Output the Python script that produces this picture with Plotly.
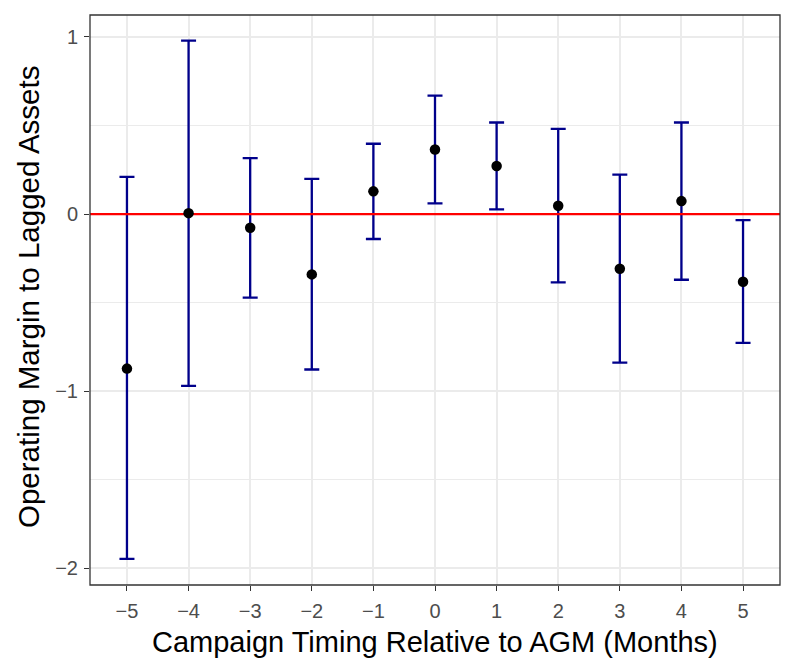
import plotly.graph_objects as go

months = [-5, -4, -3, -2, -1, 0, 1, 2, 3, 4, 5]
estimate = [-0.873, 0.005, -0.077, -0.341, 0.128, 0.364, 0.271, 0.047, -0.309, 0.073, -0.382]
upper = [0.210, 0.979, 0.316, 0.199, 0.397, 0.669, 0.517, 0.481, 0.223, 0.517, -0.034]
lower = [-1.948, -0.970, -0.472, -0.878, -0.141, 0.060, 0.026, -0.386, -0.839, -0.371, -0.728]
y_ticks = [-2, -1, 0, 1]
y_minor = [-1.5, -0.5, 0.5]

x_title = "Campaign Timing Relative to AGM (Months)"
y_title = "Operating Margin to Lagged Assets"

err_plus = [u - e for u, e in zip(upper, estimate)]
err_minus = [e - l for e, l in zip(estimate, lower)]

x_range = [-5.6, 5.6]
y_range = [-2.095, 1.124]


def lab(v):
    return ("\u2212" + str(-v)) if v < 0 else str(v)


fig = go.Figure()
fig.add_trace(go.Scatter(
    x=months, y=estimate, mode="markers",
    marker=dict(size=1, opacity=0),
    error_y=dict(type="data", symmetric=False, array=err_plus, arrayminus=err_minus,
                 color="#00008B", thickness=2.3, width=7.5),
    showlegend=False, hoverinfo="skip"))
fig.add_trace(go.Scatter(
    x=x_range, y=[0, 0], mode="lines",
    line=dict(color="#FF0000", width=2.3), showlegend=False, hoverinfo="skip"))
fig.add_trace(go.Scatter(
    x=months, y=estimate, mode="markers",
    marker=dict(size=10.5, color="black"), showlegend=False))

grid = "#EBEBEB"
axis_common = dict(
    showgrid=True, gridcolor=grid, gridwidth=1.5,
    zeroline=False, showline=False, automargin=False,
    ticks="outside", ticklen=5, tickwidth=1.3, tickcolor="#333333",
    tickfont=dict(size=20, color="#4D4D4D", family="Liberation Sans, Arial, sans-serif"),
)
fig.update_layout(
    width=793, height=671,
    margin=dict(l=90, r=13, t=15, b=86),
    paper_bgcolor="white", plot_bgcolor="white",
    font=dict(family="Liberation Sans, Arial, sans-serif"),
    xaxis=dict(range=x_range, tickmode="array", tickvals=months,
               ticktext=[lab(m) for m in months], ticklabelstandoff=3, **axis_common),
    yaxis=dict(range=y_range, tickmode="array", tickvals=y_ticks,
               ticktext=[lab(v) for v in y_ticks], ticklabelstandoff=2,
               minor=dict(tickvals=y_minor, showgrid=True, gridcolor=grid, gridwidth=0.8, ticks=""),
               **axis_common),
    shapes=[dict(type="rect", xref="paper", yref="paper", x0=0, x1=1, y0=0, y1=1,
                 line=dict(color="#333333", width=1.3), fillcolor="rgba(0,0,0,0)", layer="above")],
    annotations=[
        dict(text=x_title, xref="paper", yref="paper", x=0.5, y=0, yshift=-57,
             showarrow=False, xanchor="center", yanchor="middle",
             font=dict(size=29, color="black")),
        dict(text=y_title, xref="paper", yref="paper", x=0, y=0.5, xshift=-62, yshift=3,
             showarrow=False, xanchor="center", yanchor="middle", textangle=-90,
             font=dict(size=29.5, color="black")),
    ],
)
fig.write_html("out.html", config={"displayModeBar": False},
               post_script="document.body.style.margin='0px';")
